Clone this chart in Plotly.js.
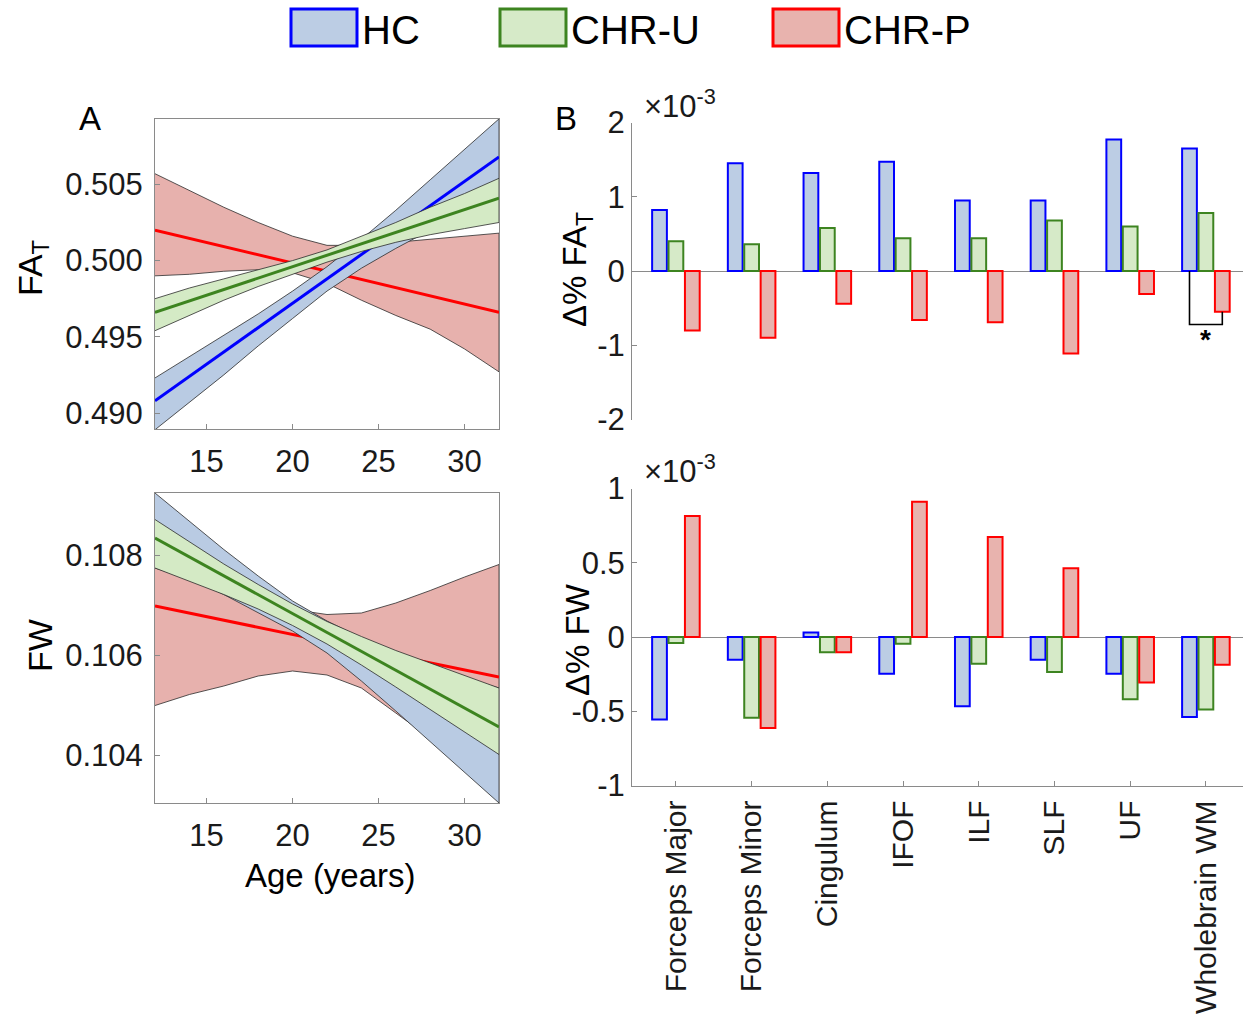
<!DOCTYPE html>
<html>
<head>
<meta charset="utf-8">
<script src="https://cdn.plot.ly/plotly-3.0.1.min.js"></script>
<style>
  html, body { margin: 0; padding: 0; background: #ffffff; }
  #chart { width: 1253px; height: 1019px; }
</style>
</head>
<body>
<div id="chart"></div>
<script>
// ---------------- DATA ----------------
const seriesNames = ['HC', 'CHR-U', 'CHR-P'];

// Panel A: age trajectories (years)
const ages = [12, 14, 16, 18, 20, 22, 24, 26, 28, 30, 32];
const lineAges = [12, 32];

// FA_T
const faHCLine    = [0.4908, 0.5068];
const faHCUpper   = [0.4923, 0.4937, 0.4951, 0.4965, 0.4980, 0.4996, 0.5014, 0.5033, 0.5053, 0.5073, 0.5093];
const faHCLower   = [0.4889, 0.4907, 0.4925, 0.4944, 0.4962, 0.4980, 0.4995, 0.5008, 0.5020, 0.5032, 0.5043];
const faCHRULine  = [0.4966, 0.5041];
const faCHRUUpper = [0.4975, 0.4982, 0.4988, 0.4994, 0.5000, 0.5007, 0.5016, 0.5025, 0.5035, 0.5044, 0.5054];
const faCHRULower = [0.4954, 0.4964, 0.4974, 0.4983, 0.4991, 0.4999, 0.5006, 0.5012, 0.5017, 0.5021, 0.5025];
const faCHRPLine  = [0.5020, 0.4966];
const faCHRPUpper = [0.5057, 0.5046, 0.5035, 0.5025, 0.5016, 0.5010, 0.5010, 0.5012, 0.5014, 0.5016, 0.5018];
const faCHRPLower = [0.4990, 0.4991, 0.4993, 0.4994, 0.4992, 0.4985, 0.4974, 0.4964, 0.4955, 0.4942, 0.4927];

// FW
const fwHCUpper   = [0.10925, 0.10869, 0.10812, 0.10759, 0.10709, 0.10669, 0.10635, 0.10605, 0.10579, 0.10555, 0.10535];
const fwHCLower   = [0.10782, 0.10755, 0.10722, 0.10685, 0.10649, 0.10605, 0.10549, 0.10489, 0.10429, 0.10367, 0.10305];
const fwCHRULine  = [0.10835, 0.10457];
const fwCHRUUpper = [0.10872, 0.10827, 0.10783, 0.10742, 0.10703, 0.10668, 0.10638, 0.10610, 0.10585, 0.10560, 0.10535];
const fwCHRULower = [0.10775, 0.10749, 0.10722, 0.10693, 0.10660, 0.10623, 0.10581, 0.10537, 0.10493, 0.10447, 0.10402];
const fwCHRPLine  = [0.10699, 0.10557];
const fwCHRPUpper = [0.10775, 0.10753, 0.10734, 0.10712, 0.10692, 0.10682, 0.10685, 0.10705, 0.10730, 0.10757, 0.10782];
const fwCHRPLower = [0.10500, 0.10522, 0.10539, 0.10559, 0.10569, 0.10561, 0.10535, 0.10485, 0.10435, 0.10382, 0.10331];

// Panel B: tract effects (x10^-3)
const tracts = ['Forceps Major', 'Forceps Minor', 'Cingulum', 'IFOF', 'ILF', 'SLF', 'UF', 'Wholebrain WM'];
const dFA_HC = [0.82, 1.45, 1.32, 1.47, 0.95, 0.95, 1.77, 1.65];
const dFA_U  = [0.40, 0.36, 0.58, 0.44, 0.44, 0.68, 0.60, 0.78];
const dFA_P  = [-0.80, -0.90, -0.44, -0.66, -0.69, -1.11, -0.31, -0.55];
const dFW_HC = [-0.555, -0.153, 0.03, -0.247, -0.467, -0.153, -0.247, -0.539];
const dFW_U  = [-0.04, -0.544, -0.103, -0.045, -0.18, -0.236, -0.42, -0.488];
const dFW_P  = [0.815, -0.613, -0.103, 0.91, 0.674, 0.463, -0.306, -0.187];

const faTicks = [0.490, 0.495, 0.500, 0.505];
const fwTicks = [0.104, 0.106, 0.108];
const ageTicks = [15, 20, 25, 30];
const dFATicks = [-2, -1, 0, 1, 2];
const dFWTicks = [-1, -0.5, 0, 0.5, 1];

// ---------------- STYLE ----------------
const W = 1253, H = 1019;
const FONT = 'Liberation Sans, Arial, Helvetica, sans-serif';
const lineCol = ['#0000ff', '#3d8420', '#ff0000'];
const bandCol = ['#b9cbe3', '#d4eac5', '#e7b1ad'];
const barFill = ['#bccde4', '#d6eac8', '#e8b3ae'];
const axisCol = '#8a8a8a';
const txtCol = '#1a1a1a';
const px = v => v / W;
const py = v => 1 - v / H;

function band(xs, up, lo, col, xa, ya) {
  return {
    x: xs.concat(xs.slice().reverse()),
    y: up.concat(lo.slice().reverse()),
    type: 'scatter', mode: 'lines', fill: 'toself', fillcolor: col,
    line: { color: '#2b2b2b', width: 0.8 },
    xaxis: xa, yaxis: ya, hoverinfo: 'skip', showlegend: false
  };
}
function mline(xs, ys, col, xa, ya) {
  return { x: xs, y: ys, type: 'scatter', mode: 'lines',
    line: { color: col, width: 3 }, xaxis: xa, yaxis: ya, showlegend: false };
}

const xIdx = tracts.map((_, i) => i + 1);
function bars(vals, k, xa, ya) {
  return { x: xIdx, y: vals, type: 'bar', name: seriesNames[k],
    marker: { color: barFill[k], line: { color: lineCol[k], width: 2 } },
    xaxis: xa, yaxis: ya, showlegend: false };
}

const data = [
  // A top (draw order: CHR-P, HC, CHR-U)
  band(ages, faCHRPUpper, faCHRPLower, bandCol[2], 'x', 'y'),
  mline(lineAges, faCHRPLine, lineCol[2], 'x', 'y'),
  band(ages, faHCUpper, faHCLower, bandCol[0], 'x', 'y'),
  mline(lineAges, faHCLine, lineCol[0], 'x', 'y'),
  band(ages, faCHRUUpper, faCHRULower, bandCol[1], 'x', 'y'),
  mline(lineAges, faCHRULine, lineCol[1], 'x', 'y'),
  // A bottom
  band(ages, fwCHRPUpper, fwCHRPLower, bandCol[2], 'x2', 'y2'),
  mline(lineAges, fwCHRPLine, lineCol[2], 'x2', 'y2'),
  band(ages, fwHCUpper, fwHCLower, bandCol[0], 'x2', 'y2'),
  band(ages, fwCHRUUpper, fwCHRULower, bandCol[1], 'x2', 'y2'),
  mline(lineAges, fwCHRULine, lineCol[1], 'x2', 'y2'),
  // B top
  bars(dFA_HC, 0, 'x3', 'y3'), bars(dFA_U, 1, 'x3', 'y3'), bars(dFA_P, 2, 'x3', 'y3'),
  // B bottom
  bars(dFW_HC, 0, 'x4', 'y4'), bars(dFW_U, 1, 'x4', 'y4'), bars(dFW_P, 2, 'x4', 'y4')
];

// significance bracket (Wholebrain WM: HC vs CHR-P)
const bargap = 0.35, bargroupgap = 0.1;
const slot = (1 - bargap) / 3;
const sigIdx = tracts.indexOf('Wholebrain WM');
const sigX = sigIdx + 1;
const sigY = Math.min(0, dFA_P[sigIdx]) - 0.17;
data.push({
  x: [sigX - slot, sigX - slot, sigX + slot, sigX + slot],
  y: [0, sigY, sigY, dFA_P[sigIdx]],
  type: 'scatter', mode: 'lines', line: { color: '#000000', width: 1.6 },
  xaxis: 'x3', yaxis: 'y3', showlegend: false, hoverinfo: 'skip'
});

const tickFont = { family: FONT, size: 31, color: txtCol };
const catFont = { family: FONT, size: 30, color: txtCol };
const fmt3 = v => v.toFixed(3);
const fmtM = v => String(v);

const axA = {
  showline: true, mirror: true, linecolor: axisCol, linewidth: 1,
  ticks: 'inside', ticklen: 5, tickcolor: axisCol, showgrid: false, zeroline: false,
  tickfont: tickFont, fixedrange: true
};

const layout = {
  width: W, height: H,
  margin: { l: 0, r: 0, t: 0, b: 0 },
  paper_bgcolor: '#ffffff', plot_bgcolor: 'rgba(0,0,0,0)',
  showlegend: false,
  barmode: 'group', bargap: bargap, bargroupgap: bargroupgap,
  font: { family: FONT, color: txtCol },
  xaxis: Object.assign({}, axA, { domain: [px(155), px(499)], range: [12, 32], tickvals: ageTicks,
    ticklabelstandoff: 5, anchor: 'y' }),
  yaxis: Object.assign({}, axA, { domain: [py(429), py(119)], range: [0.48895, 0.50929],
    tickvals: faTicks, ticktext: faTicks.map(fmt3), ticklabelstandoff: 5, anchor: 'x' }),
  xaxis2: Object.assign({}, axA, { domain: [px(155), px(499)], range: [12, 32], tickvals: ageTicks,
    ticklabelstandoff: 5, anchor: 'y2' }),
  yaxis2: Object.assign({}, axA, { domain: [py(803), py(493)], range: [0.10305, 0.10925],
    tickvals: fwTicks, ticktext: fwTicks.map(fmt3), ticklabelstandoff: 5, anchor: 'x2' }),
  xaxis3: { domain: [px(632), px(1243)], range: [0.42, 8.49], showline: false, showticklabels: false,
    ticks: '', showgrid: false, zeroline: false, anchor: 'y3', fixedrange: true },
  yaxis3: { domain: [py(419.5), py(122.5)], range: [-2, 2], showline: true, linecolor: axisCol, linewidth: 1,
    ticks: 'inside', ticklen: 5, tickcolor: axisCol, showgrid: false,
    zeroline: true, zerolinecolor: axisCol, zerolinewidth: 1,
    tickvals: dFATicks, ticktext: dFATicks.map(fmtM), tickfont: tickFont, anchor: 'x3', fixedrange: true },
  xaxis4: { domain: [px(632), px(1243)], range: [0.42, 8.49], showline: true, linecolor: axisCol, linewidth: 1,
    ticks: 'inside', ticklen: 5, tickcolor: axisCol, showgrid: false, zeroline: false,
    tickvals: xIdx, ticktext: tracts, tickangle: -90, tickfont: catFont, ticklabelstandoff: 2,
    anchor: 'y4', fixedrange: true },
  yaxis4: { domain: [py(785.5), py(488.5)], range: [-1, 1], showline: true, linecolor: axisCol, linewidth: 1,
    ticks: 'inside', ticklen: 5, tickcolor: axisCol, showgrid: false,
    zeroline: true, zerolinecolor: axisCol, zerolinewidth: 1,
    tickvals: dFWTicks, ticktext: dFWTicks.map(fmtM), tickfont: tickFont, anchor: 'x4', fixedrange: true },
  shapes: [],
  annotations: []
};

// custom legend
const legX = [291, 500, 773];
seriesNames.forEach((nm, k) => {
  layout.shapes.push({ type: 'rect', xref: 'paper', yref: 'paper',
    x0: px(legX[k]), x1: px(legX[k] + 66), y0: py(46), y1: py(9),
    fillcolor: barFill[k], line: { color: lineCol[k], width: 3 } });
  layout.annotations.push({ xref: 'paper', yref: 'paper', x: px(legX[k] + 69), y: py(30),
    xanchor: 'left', yanchor: 'middle', showarrow: false, text: nm,
    font: { family: FONT, size: 40, color: '#000000' } });
});

const ann = (x, y, text, size, extra) => Object.assign({
  xref: 'paper', yref: 'paper', x: px(x), y: py(y), text: text, showarrow: false,
  xanchor: 'center', yanchor: 'middle',
  font: { family: FONT, size: size, color: '#000000' }
}, extra || {});

layout.annotations.push(
  ann(90, 118, 'A', 33),
  ann(566, 118, 'B', 33),
  ann(32, 268, 'FA<sub>T</sub>', 34, { textangle: -90 }),
  ann(40, 646, 'FW', 34, { textangle: -90 }),
  ann(330, 875, 'Age (years)', 33),
  ann(577, 270, 'Δ% FA<sub>T</sub>', 33, { textangle: -90 }),
  ann(577, 640, 'Δ% FW', 33, { textangle: -90 }),
  ann(642, 104, '×10<sup>-3</sup>', 31, { xanchor: 'left', font: { family: FONT, size: 31, color: txtCol } }),
  ann(642, 469, '×10<sup>-3</sup>', 31, { xanchor: 'left', font: { family: FONT, size: 31, color: txtCol } }),
  { xref: 'x3', yref: 'y3', x: sigX, y: sigY - 0.2, text: '<b>*</b>', showarrow: false,
    xanchor: 'center', yanchor: 'middle', font: { family: FONT, size: 28, color: '#000000' } }
);

Plotly.newPlot('chart', data, layout, { displayModeBar: false, staticPlot: true });
</script>
</body>
</html>
